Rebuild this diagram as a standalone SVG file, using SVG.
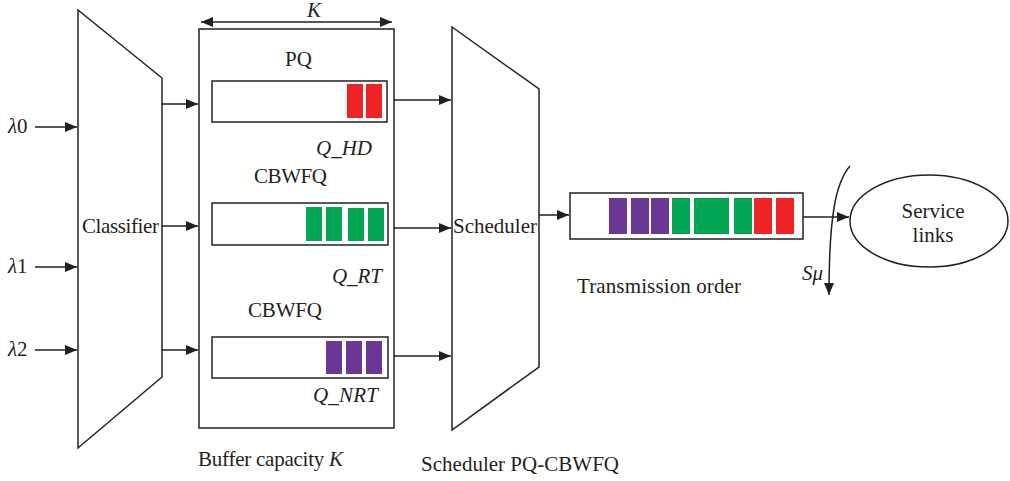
<svg xmlns="http://www.w3.org/2000/svg" width="1010" height="481" viewBox="0 0 1010 481">
<style>
.ln{fill:none;stroke:#231f20;stroke-width:1.5}
.sh{fill:#fff;stroke:#231f20;stroke-width:1.5}
.t{font-family:"Liberation Serif","Times New Roman",serif;font-size:21px;fill:#231f20}
.i{font-style:italic}
.r{fill:#ee2326}
.g{fill:#00a651}
.p{fill:#6b3795}
</style>
<defs>
<marker id="ah" markerUnits="userSpaceOnUse" markerWidth="13" markerHeight="11" refX="12" refY="5" orient="auto-start-reverse">
<path d="M0,0 L12,5 L0,10 z" fill="#231f20"/>
</marker>
</defs>
<rect width="1010" height="481" fill="#fff"/>
<g id="classifier">
<polygon class="sh" points="78,10 162,78 162,377 78,448"/>
<text class="t" x="82" y="233" textLength="77">Classifier</text>
</g>
<g id="buffer">
<rect class="sh" x="199" y="29" width="195" height="399"/>
<text class="t i" x="307" y="17">K</text>
<text class="t" x="285" y="66">PQ</text>
<text class="t i" x="316" y="155" textLength="56">Q_HD</text>
<text class="t" x="254" y="183" textLength="73">CBWFQ</text>
<text class="t i" x="332" y="283" textLength="50">Q_RT</text>
<text class="t" x="248" y="317" textLength="74">CBWFQ</text>
<text class="t i" x="313" y="402" textLength="65">Q_NRT</text>
<text class="t" x="198" y="466" textLength="145">Buffer capacity <tspan class="i">K</tspan></text>
</g>
<g id="q_hd">
<rect class="sh" x="212" y="81" width="175" height="41"/>
<rect class="r" x="347" y="84" width="16" height="34"/>
<rect class="r" x="366" y="84" width="16" height="34"/>
</g>
<g id="q_rt">
<rect class="sh" x="212" y="203" width="176" height="42"/>
<rect class="g" x="306" y="207" width="16" height="34"/>
<rect class="g" x="326" y="207" width="16" height="34"/>
<rect class="g" x="348" y="208" width="16" height="33"/>
<rect class="g" x="368" y="208" width="16" height="33"/>
</g>
<g id="q_nrt">
<rect class="sh" x="212" y="337" width="176" height="41"/>
<rect class="p" x="326" y="341" width="16" height="33"/>
<rect class="p" x="346" y="341" width="16" height="33"/>
<rect class="p" x="366" y="341" width="16" height="33"/>
</g>
<g id="scheduler">
<polygon class="sh" points="452,27 539,89 539,367 452,430"/>
<text class="t" x="453" y="233" textLength="84">Scheduler</text>
<text class="t" x="421" y="471" textLength="198">Scheduler PQ-CBWFQ</text>
</g>
<g id="transmission">
<rect class="sh" x="570" y="193" width="233" height="46"/>
<rect class="p" x="609" y="198" width="18" height="36"/>
<rect class="p" x="631" y="198" width="18" height="36"/>
<rect class="p" x="651" y="198" width="18" height="36"/>
<rect class="g" x="672" y="198" width="18" height="36"/>
<rect class="g" x="694" y="198" width="35" height="36"/>
<rect class="g" x="734" y="198" width="18" height="36"/>
<rect class="r" x="754" y="198" width="18" height="36"/>
<rect class="r" x="776" y="198" width="18" height="36"/>
<text class="t" x="577" y="293" textLength="164">Transmission order</text>
</g>
<g id="service">
<ellipse class="sh" cx="929" cy="221" rx="79" ry="46"/>
<text class="t" x="933" y="218" text-anchor="middle">Service</text>
<text class="t" x="933" y="242" text-anchor="middle">links</text>
</g>
<g id="inputs">
<text class="t" x="8" y="133"><tspan class="i">λ</tspan>0</text>
<text class="t" x="8" y="273"><tspan class="i">λ</tspan>1</text>
<text class="t" x="8" y="356"><tspan class="i">λ</tspan>2</text>
<text class="t i" x="802" y="280">Sμ</text>
</g>
<g id="connectors">
<path class="ln" d="M35,127 H77" marker-end="url(#ah)"/>
<path class="ln" d="M35,267 H77" marker-end="url(#ah)"/>
<path class="ln" d="M35,350 H77" marker-end="url(#ah)"/>
<path class="ln" d="M162,104 H198" marker-end="url(#ah)"/>
<path class="ln" d="M162,226 H198" marker-end="url(#ah)"/>
<path class="ln" d="M162,350 H198" marker-end="url(#ah)"/>
<path class="ln" d="M394,100 H451" marker-end="url(#ah)"/>
<path class="ln" d="M394,228 H451" marker-end="url(#ah)"/>
<path class="ln" d="M394,356 H451" marker-end="url(#ah)"/>
<path class="ln" d="M539,215 H569" marker-end="url(#ah)"/>
<path class="ln" d="M803,217 H849" marker-end="url(#ah)"/>
<path class="ln" d="M201,22 H392" marker-start="url(#ah)" marker-end="url(#ah)"/>
<path class="ln" d="M850,166 C836,182 829,215 829,295" marker-end="url(#ah)"/>
</g>
</svg>
